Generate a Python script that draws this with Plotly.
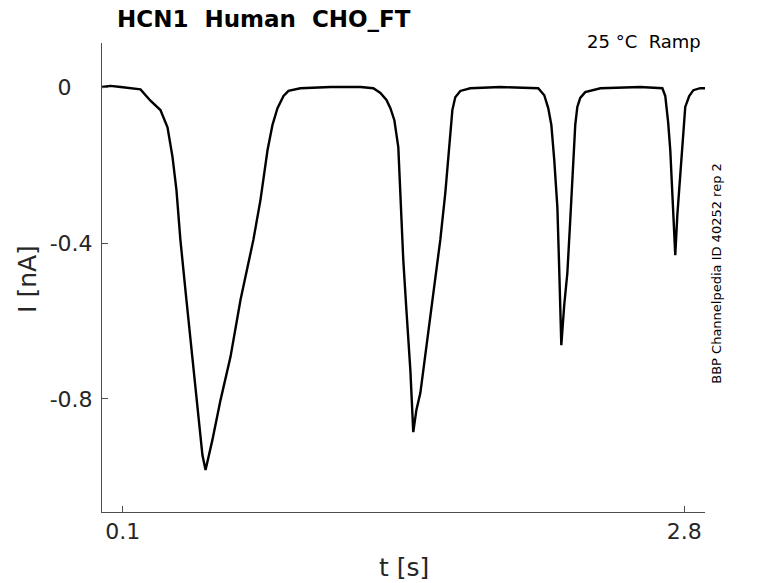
import plotly.graph_objects as go

# current trace (t in s, I in nA)
t = [0.0, 0.04, 0.09, 0.14, 0.185, 0.233, 0.281, 0.315, 0.339, 0.358, 0.377,
     0.406, 0.435, 0.464, 0.483, 0.498,
     0.507, 0.531, 0.570, 0.618, 0.666, 0.728, 0.762, 0.796, 0.820, 0.844,
     0.873, 0.897, 0.954, 1.099, 1.243, 1.305, 1.339, 1.368, 1.387, 1.406,
     1.425, 1.435, 1.449, 1.464, 1.483, 1.497,
     1.512, 1.531, 1.565, 1.594, 1.627, 1.651, 1.670, 1.685, 1.699, 1.723,
     1.771, 1.916, 2.098, 2.127, 2.146, 2.161, 2.175, 2.190, 2.199, 2.209,
     2.223, 2.238, 2.252, 2.267, 2.276, 2.286, 2.300, 2.324, 2.397, 2.589,
     2.695, 2.709, 2.723, 2.733, 2.743, 2.757,
     2.767, 2.781, 2.791, 2.805, 2.824, 2.844, 2.877, 2.90]
current = [0.0, 0.003, 0.0, -0.003, -0.006, -0.035, -0.059, -0.103, -0.179,
           -0.264, -0.392, -0.546, -0.692, -0.854, -0.944, -0.982,
           -0.962, -0.905, -0.803, -0.692, -0.546, -0.392, -0.290, -0.162,
           -0.097, -0.054, -0.023, -0.010, -0.003, 0.0, 0.0, -0.003, -0.015,
           -0.033, -0.054, -0.085, -0.154, -0.272, -0.444, -0.572, -0.726,
           -0.885,
           -0.828, -0.785, -0.649, -0.528, -0.392, -0.272, -0.162, -0.059,
           -0.026, -0.010, -0.003, 0.0, -0.003, -0.021, -0.054, -0.097,
           -0.187, -0.308, -0.469, -0.662,
           -0.559, -0.477, -0.341, -0.187, -0.097, -0.051, -0.028, -0.013,
           -0.003, 0.0, -0.003, -0.023, -0.092, -0.162, -0.290, -0.431,
           -0.328, -0.221, -0.136, -0.051, -0.023, -0.008, -0.003, -0.003]

x_ticks = [0.1, 2.8]
x_tick_labels = ["0.1", "2.8"]
y_ticks = [0, -0.4, -0.8]
y_tick_labels = ["0\u00a0\u00a0\u00a0", "-0.4", "-0.8"]

FONT = "DejaVu Sans"
AXIS_COL = "#4d4d4d"
TEXT_COL = "#262626"

fig = go.Figure()
fig.add_trace(go.Scatter(x=t, y=current, mode="lines",
                         line=dict(color="black", width=2.4),
                         showlegend=False))

fig.update_layout(
    width=778, height=583,
    margin=dict(l=102, r=73, t=43, b=71),
    paper_bgcolor="white", plot_bgcolor="white",
    font=dict(family=FONT, color=TEXT_COL),
    xaxis=dict(range=[0.0, 2.9], tickvals=x_ticks, ticktext=x_tick_labels,
               showline=True, linecolor=AXIS_COL, linewidth=1,
               ticks="inside", ticklen=6, tickcolor=AXIS_COL,
               showgrid=False, zeroline=False,
               tickfont=dict(size=22, color=TEXT_COL), ticklabelstandoff=0),
    yaxis=dict(range=[-1.09, 0.113], tickvals=y_ticks, ticktext=y_tick_labels,
               showline=True, linecolor=AXIS_COL, linewidth=1,
               ticks="inside", ticklen=6, tickcolor=AXIS_COL,
               showgrid=False, zeroline=False,
               tickfont=dict(size=22, color=TEXT_COL), ticklabelstandoff=4),
)

fig.add_annotation(text="HCN1\u00a0\u00a0Human\u00a0\u00a0CHO_FT",
                   xref="paper", yref="paper", x=0.021, y=1,
                   xanchor="left", yanchor="middle", yshift=24,
                   showarrow=False,
                   font=dict(family="DejaVu Sans, sans-serif", size=23,
                             color="black", weight="bold"))
fig.add_annotation(text="25 °C\u00a0\u00a0Ramp", xref="paper", yref="paper",
                   x=1, y=1, xanchor="right", yanchor="middle", xshift=-2,
                   yshift=2, showarrow=False,
                   font=dict(size=18, color="black"))
fig.add_annotation(text="BBP Channelpedia ID 40252 rep 2",
                   xref="paper", yref="paper", x=1, y=0.508, xshift=12,
                   xanchor="center", yanchor="middle", textangle=-90,
                   showarrow=False, font=dict(size=13, color="black"))
fig.add_annotation(text="I [nA]", xref="paper", yref="paper", x=0, y=0.497,
                   xshift=-74, xanchor="center", yanchor="middle",
                   textangle=-90, showarrow=False,
                   font=dict(size=25, color=TEXT_COL))
fig.add_annotation(text="t [s]", xref="paper", yref="paper", x=0.5, y=0,
                   yshift=-55, xanchor="center", yanchor="middle",
                   showarrow=False, font=dict(size=25, color=TEXT_COL))

# drop the default page margin so the figure fills the window
fig.write_html("out.html", config={"displayModeBar": False},
               post_script="document.body.style.margin='0';"
                           "document.body.style.overflow='hidden';")
